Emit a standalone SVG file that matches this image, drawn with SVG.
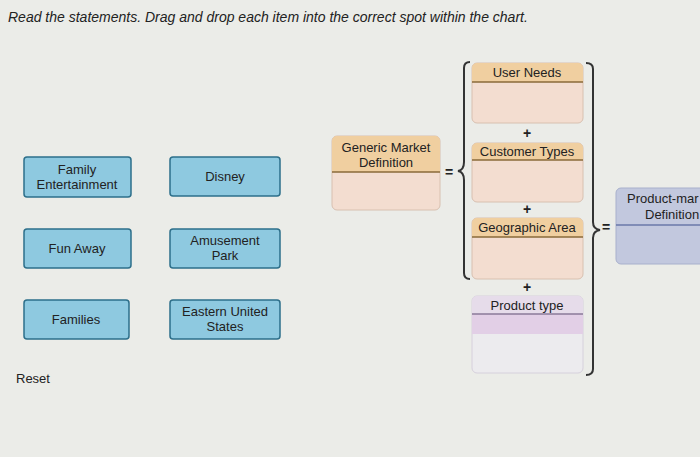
<svg xmlns="http://www.w3.org/2000/svg" width="700" height="457" viewBox="0 0 700 457">
<style>
text{font-family:"Liberation Sans",Arial,sans-serif;fill:#222}
.t{font-size:13px;text-anchor:middle}
.item rect{fill:#8ec9e0;stroke:#2d6f8a;stroke-width:1.5}
.hdr{fill:#f0cfa0}
.body{fill:#f3ddd0}
.line{stroke:#8a6a3a;stroke-width:1.5}
.br{fill:none;stroke:#333;stroke-width:2}
</style>
<rect width="700" height="457" fill="#ebece8"/>
<text x="8" y="22" style="font-size:14px;font-style:italic">Read the statements. Drag and drop each item into the correct spot within the chart.</text>
<g id="family-entertainment" class="item"><rect x="24" y="157" width="107" height="40" rx="3"/><text class="t" x="77" y="174">Family</text><text class="t" x="77" y="189">Entertainment</text></g>
<g id="disney" class="item"><rect x="170" y="157" width="110" height="39" rx="3"/><text class="t" x="225" y="181">Disney</text></g>
<g id="fun-away" class="item"><rect x="24" y="229" width="107" height="39" rx="3"/><text class="t" x="77" y="253">Fun Away</text></g>
<g id="amusement-park" class="item"><rect x="170" y="229" width="110" height="39" rx="3"/><text class="t" x="225" y="245">Amusement</text><text class="t" x="225" y="260">Park</text></g>
<g id="families" class="item"><rect x="24" y="300" width="105" height="39" rx="3"/><text class="t" x="76" y="324">Families</text></g>
<g id="eastern-us" class="item"><rect x="170" y="300" width="110" height="39" rx="3"/><text class="t" x="225" y="316">Eastern United</text><text class="t" x="225" y="331">States</text></g>
<text x="16" y="383" style="font-size:13px">Reset</text>
<g id="generic-market"><rect class="body" x="332" y="136" width="108" height="74" rx="5" stroke="#d8c0b0"/><path class="hdr" d="M332 172V141a5 5 0 0 1 5-5h98a5 5 0 0 1 5 5v31z"/><line class="line" x1="332" y1="172" x2="440" y2="172"/><text class="t" x="386" y="152">Generic Market</text><text class="t" x="386" y="167">Definition</text></g>
<g id="user-needs"><rect class="body" x="472" y="63" width="111" height="60" rx="5" stroke="#d8c0b0"/><path class="hdr" d="M472 82V68a5 5 0 0 1 5-5h101a5 5 0 0 1 5 5v14z"/><line class="line" x1="472" y1="82" x2="583" y2="82"/><text class="t" x="527" y="77">User Needs</text></g>
<g id="customer-types"><rect class="body" x="472" y="143" width="111" height="59" rx="5" stroke="#d8c0b0"/><path class="hdr" d="M472 160V148a5 5 0 0 1 5-5h101a5 5 0 0 1 5 5v12z"/><line class="line" x1="472" y1="160" x2="583" y2="160"/><text class="t" x="527" y="156">Customer Types</text></g>
<g id="geographic-area"><rect class="body" x="472" y="218" width="111" height="61" rx="5" stroke="#d8c0b0"/><path class="hdr" d="M472 237V223a5 5 0 0 1 5-5h101a5 5 0 0 1 5 5v14z"/><line class="line" x1="472" y1="237" x2="583" y2="237"/><text class="t" x="527" y="232">Geographic Area</text></g>
<g id="product-type"><rect x="472" y="296" width="111" height="77" rx="5" fill="#ecebee" stroke="#d6d0dc"/><path fill="#e6dcea" d="M472 314V301a5 5 0 0 1 5-5h101a5 5 0 0 1 5 5v13z"/><rect x="472" y="314" width="111" height="20" fill="#e2cfe6"/><line x1="472" y1="314" x2="583" y2="314" stroke="#8a7a98" stroke-width="1.5"/><text class="t" x="527" y="310">Product type</text></g>
<g id="product-market"><rect x="616" y="188" width="90" height="76" rx="5" fill="#c2c8de" stroke="#a8b0cc"/><line x1="616" y1="225" x2="700" y2="225" stroke="#6a78a8" stroke-width="1.5"/><text x="627" y="203" style="font-size:13px">Product-mar</text><text x="645" y="219" style="font-size:13px">Definition</text></g>
<g id="connectors">
<path class="br" d="M470 62q-6 0-6 6V162q0 8-6 9q6 1 6 9V273q0 6 6 6"/>
<path class="br" d="M586 63q7 0 7 6V222q0 7 7 8q-7 1-7 8V369q0 6-7 6"/>
<g style="font-size:14px;font-weight:bold;text-anchor:middle">
<text x="449" y="177">=</text><text x="606" y="232">=</text>
<text x="527" y="138">+</text><text x="527" y="214">+</text><text x="527" y="292">+</text>
</g></g>
</svg>
